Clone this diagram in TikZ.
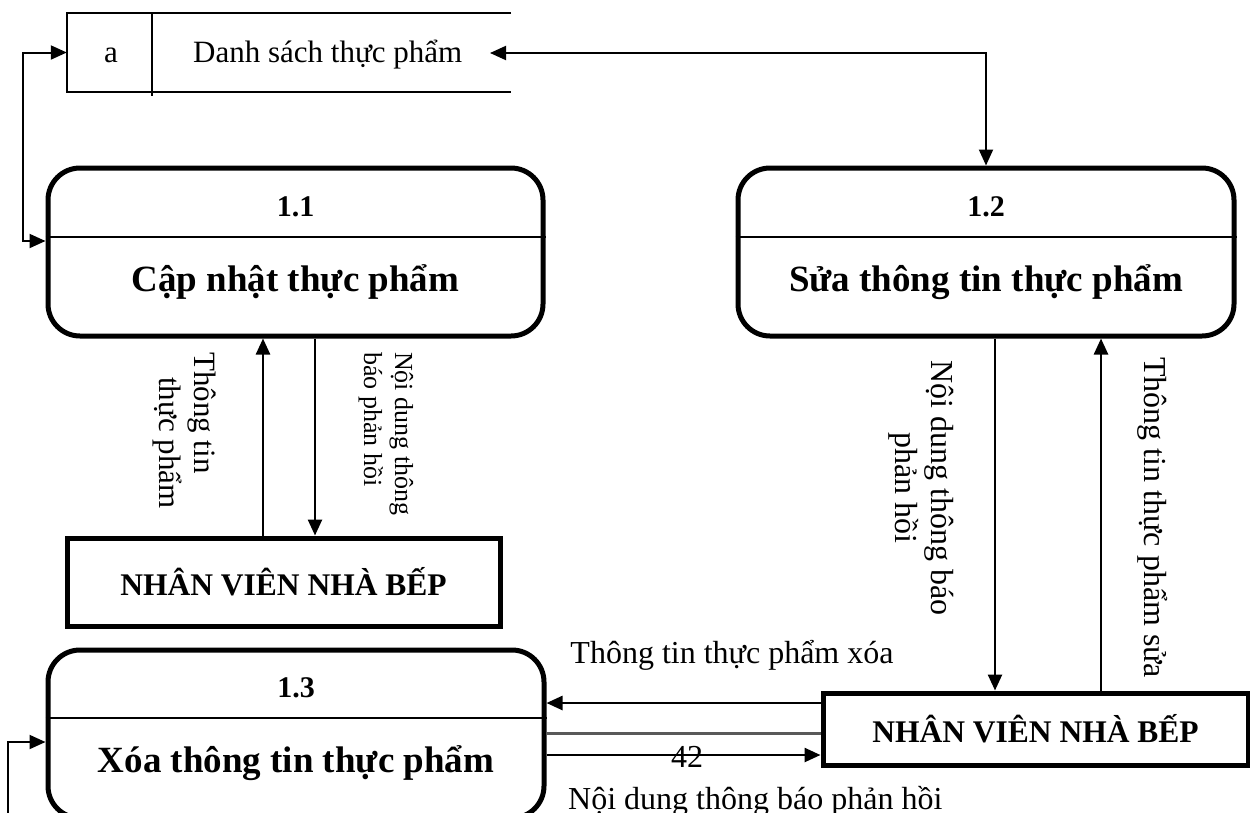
\documentclass[tikz,border=0pt]{standalone}
\usepackage{fontspec}
\setmainfont{Liberation Serif}
\usetikzlibrary{arrows.meta}
\begin{document}
\begin{tikzpicture}[x=1pt,y=-1pt,
  tip/.tip={Triangle[length=16pt,width=14pt]},
  proc/.style={draw, line width=5pt, rounded corners=32pt, minimum height=168pt, inner sep=0pt},
  ent/.style={draw, line width=5pt, inner sep=0pt, font=\bfseries\fontsize{31.5}{36}\selectfont},
  flow/.style={line width=2.5pt, -tip},
  link/.style={line width=2pt, tip-tip},
  feed/.style={line width=2pt, -tip},
  sep/.style={line width=2.5pt},
  pid/.style={font=\bfseries\fontsize{30}{34}\selectfont, inner sep=0pt},
  ptitle/.style={font=\bfseries\fontsize{37}{42}\selectfont, inner sep=0pt},
  lab/.style={font=\fontsize{32}{36.5}\selectfont, inner sep=0pt},
  smalllab/.style={font=\fontsize{26}{31}\selectfont, inner sep=0pt}]
\useasboundingbox (0,0) rectangle (1250,812);
\clip (0,0) rectangle (1250,812);

% data store "a"
\node[minimum width=444pt, minimum height=79pt, inner sep=0pt] (store) at (289,52.5) {};
\draw[line width=2pt] (store.north east) -- (store.north west) -- (store.south west) -- (store.south east);
\draw[line width=2pt] (store.north west -| 152,0) -- ([yshift=-4pt]store.south west -| 152,0);
\node[lab, font=\fontsize{31}{35}\selectfont] (storeid) at (111,55) {a};
\node[lab, font=\fontsize{31}{35}\selectfont, anchor=west] (storename) at (193,55) {Danh sách thực phẩm};
\coordinate (storein) at (490,53);

% processes
\node[proc, minimum width=495pt] (p11) at (295.5,252) {};
\draw[sep] (p11.west |- 0,237) -- (p11.east |- 0,237);
\node[pid] at (p11.center |- 0,207) {1.1};
\node[ptitle] at (p11.center |- 0,282) {Cập nhật thực phẩm};

\node[proc, minimum width=496pt] (p12) at (986,252) {};
\draw[sep] (p12.west |- 0,237) -- (p12.east |- 0,237);
\node[pid] at (p12.center |- 0,207) {1.2};
\node[ptitle] at (p12.center |- 0,282) {Sửa thông tin thực phẩm};

\node[proc, minimum width=496pt] (p13) at (296,734) {};
\draw[sep] (p13.west |- 0,718) -- (p13.east |- 0,718);
\node[pid] at (p13.center |- 0,688) {1.3};
\node[ptitle] at (p13.center |- 0,763) {Xóa thông tin thực phẩm};

% external entities
\node[ent, minimum width=433pt, minimum height=88pt] (e1) at (283.5,582) {NHÂN VIÊN NHÀ BẾP};
\node[ent, minimum width=425pt, minimum height=72pt] (e2) at (1035.5,729) {NHÂN VIÊN NHÀ BẾP};

% store links
\draw[link] (store.west) -- ++(-44,0) |- (p11.west |- 0,241);
\draw[link] (storein) -| (p12.north);

% 1.1 <-> entity
\draw[flow] (e1.north -| 263,0) -- (p11.south -| 263,0);
\draw[flow] (p11.south -| 315,0) -- (e1.north -| 315,0);
\node[lab, font=\fontsize{31}{35}\selectfont, rotate=-90, anchor=west] at (202,352) {Thông tin};
\node[lab, font=\fontsize{31}{35}\selectfont, rotate=-90, anchor=west] at (167,377) {thực phẩm};
\node[smalllab, rotate=-90, align=left, anchor=west] at (386,352) {Nội dung thông\\báo phản hồi};

% 1.2 <-> entity
\draw[flow] (p12.south -| 995,0) -- (e2.north -| 995,0);
\draw[flow] (e2.north -| 1101,0) -- (p12.south -| 1101,0);
\node[lab, rotate=-90, align=center] at (921,488) {Nội dung thông báo\\phản hồi};
\node[lab, rotate=-90, anchor=west] at (1153,357) {Thông tin thực phẩm sửa};

% 1.3 <-> entity
\draw[flow] (e2.west |- 0,703) -- (p13.east |- 0,703);
\draw[line width=3pt, black!65] (p13.east |- 0,733) -- (e2.west |- 0,733);
\draw[flow] (p13.east |- 0,755) -- (e2.west |- 0,755);
\node[lab] at (732,655) {Thông tin thực phẩm xóa};
\node[lab] at (687,757) {42};
\node[lab, anchor=west] at (568,801) {Nội dung thông báo phản hồi};

% incoming flow to 1.3 from below
\coordinate (feed13) at (8,840);
\draw[feed] (feed13) |- (p13.west |- 0,742);
\end{tikzpicture}
\end{document}
